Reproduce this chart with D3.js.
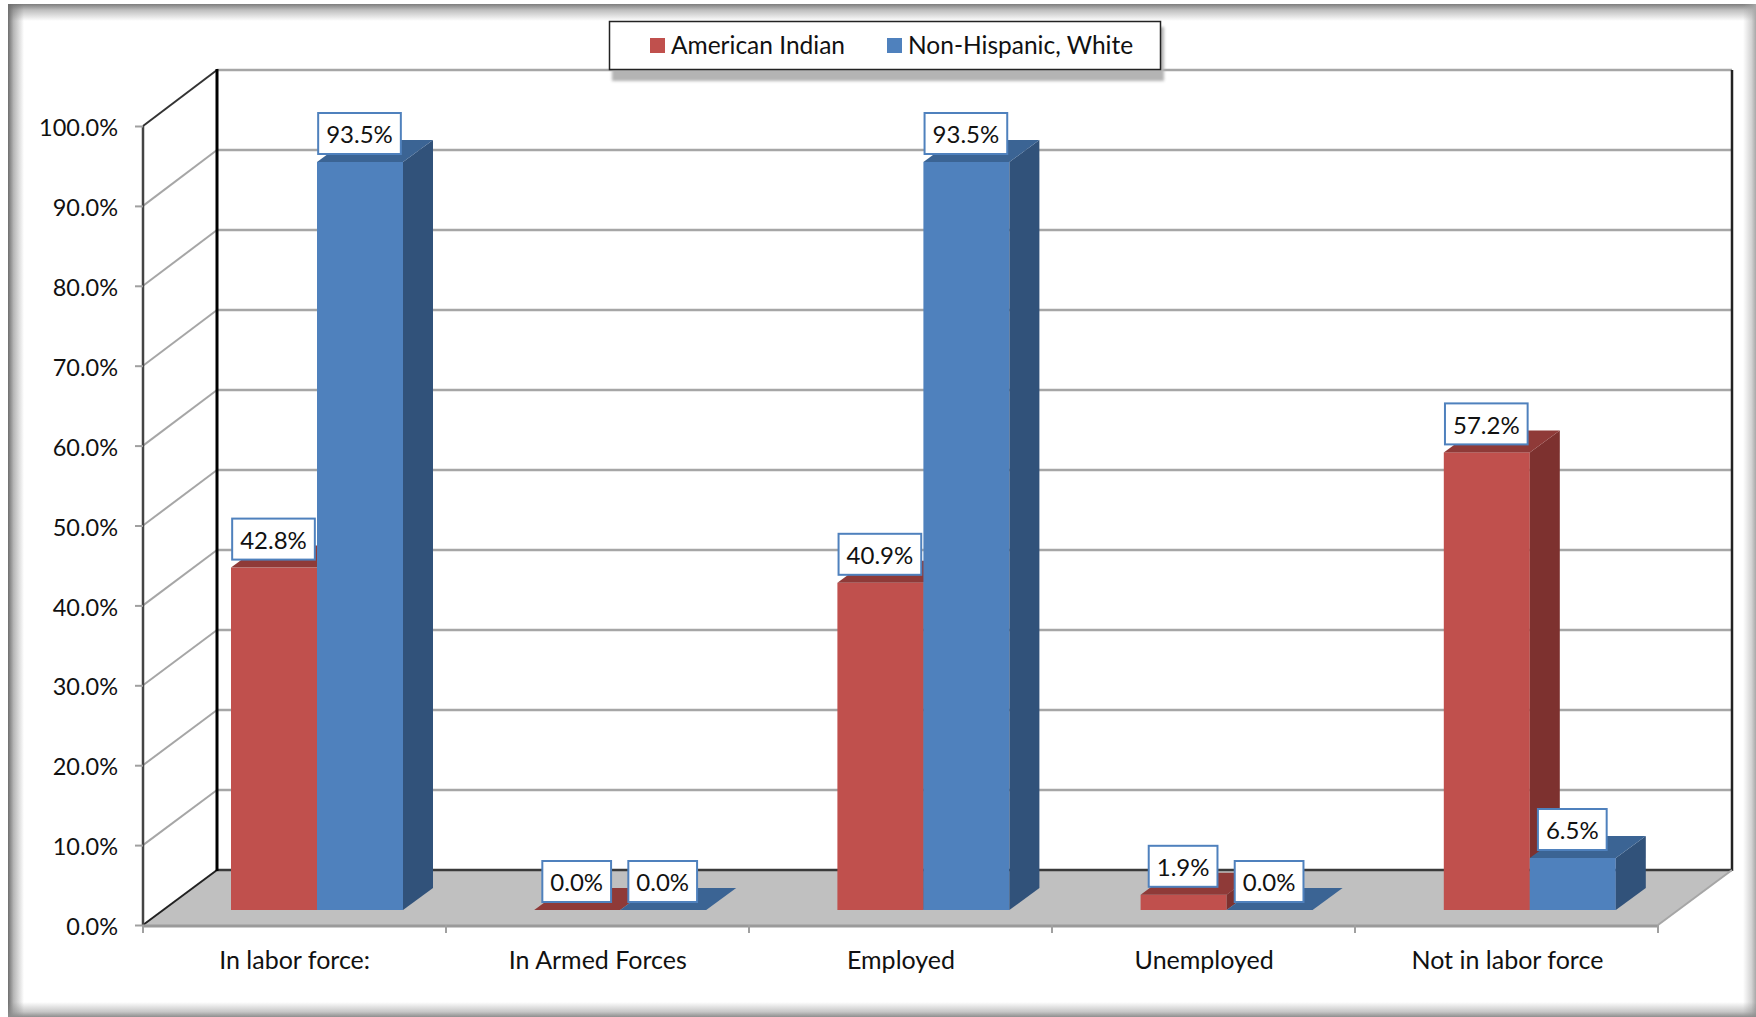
<!DOCTYPE html>
<html>
<head>
<meta charset="utf-8">
<script src="https://cdn.jsdelivr.net/npm/d3@7"></script>
<style>
    html, body { margin: 0; padding: 0; background: #fff; }
    svg { display: block; }
    text { font-family: Lato, "Open Sans", sans-serif; fill: #111; }
</style>
</head>
<body>
<div id="the_chart"></div>
<script>
var categories = ["In labor force:", "In Armed Forces", "Employed", "Unemployed", "Not in labor force"];
var seriesNames = ["American Indian", "Non-Hispanic, White"];
var americanIndian = [42.8, 0.0, 40.9, 1.9, 57.2];
var nonHispanicWhite = [93.5, 0.0, 93.5, 0.0, 6.5];
var yTicks = [0, 10, 20, 30, 40, 50, 60, 70, 80, 90, 100];

var w = 1756;
var h = 1017;

var frontColors = ["#c0504d", "#4f81bd"];
var sideColors = ["#7d312f", "#31527a"];
var topColors = ["#8f3a38", "#3b6494"];

var svg = d3.select("#the_chart")
    .append("svg")
    .attr("width", w)
    .attr("height", h);

var defs = svg.append("defs");
defs.append("filter").attr("id", "blur2").attr("x", "-5%").attr("y", "-30%").attr("width", "110%").attr("height", "160%")
    .append("feGaussianBlur").attr("stdDeviation", 1.5);

// picture frame, a soft gray shade on each edge
function frameGradient(id, x1, y1, x2, y2, dark) {
    var g = defs.append("linearGradient").attr("id", id)
        .attr("x1", x1).attr("y1", y1).attr("x2", x2).attr("y2", y2);
    g.append("stop").attr("offset", 0).attr("stop-color", dark).attr("stop-opacity", 1);
    g.append("stop").attr("offset", 0.35).attr("stop-color", dark).attr("stop-opacity", 0.5);
    g.append("stop").attr("offset", 1).attr("stop-color", dark).attr("stop-opacity", 0);
}
frameGradient("frameTop", 0, 0, 0, 1, "#7d7d7d");
frameGradient("frameLeft", 0, 0, 1, 0, "#6e6e6e");
frameGradient("frameRight", 1, 0, 0, 0, "#a8a8a8");
frameGradient("frameBottom", 0, 1, 0, 0, "#8e8e8e");

svg.append("rect").attr("x", 8).attr("y", 4).attr("width", w - 8).attr("height", 17).attr("fill", "url(#frameTop)");
svg.append("rect").attr("x", 8).attr("y", 4).attr("width", 16).attr("height", h - 4).attr("fill", "url(#frameLeft)");
svg.append("rect").attr("x", w - 13).attr("y", 4).attr("width", 13).attr("height", h - 4).attr("fill", "url(#frameRight)");
svg.append("rect").attr("x", 8).attr("y", h - 15).attr("width", w - 8).attr("height", 15).attr("fill", "url(#frameBottom)");

// scales: front of the walls, back wall, and the line the bars stand on
var x = d3.scaleBand().domain(categories).range([143, 1659]);
var yFront = d3.scaleLinear().domain([0, 100]).range([925, 126]);
var yBack = d3.scaleLinear().domain([0, 100]).range([870, 70]);
var yBar = d3.scaleLinear().domain([0, 100]).range([910, 110]);
var xSeries = d3.scaleBand().domain([0, 1]).range([88, 260]);

var wallLeft = 143;
var wallRight = 1658;
var wallDx = 74;
var barDx = 30;
var barDy = 22;

// floor
svg.append("polygon")
    .attr("points", [[wallLeft, 925], [wallRight, 925], [wallRight + wallDx, yBack(0)], [wallLeft + wallDx, yBack(0)]].join(" "))
    .attr("fill", "#c0c0c0");

// gridlines, on the side wall and along the back wall
var grid = svg.append("g");
grid.selectAll(".grid-back")
    .data(yTicks.slice(1))
    .enter()
    .append("line")
    .attr("x1", wallLeft + wallDx)
    .attr("x2", wallRight + wallDx)
    .attr("y1", function (d) { return yBack(d); })
    .attr("y2", function (d) { return yBack(d); })
    .attr("stroke", "#a6a6a6")
    .attr("stroke-width", 2.5);
grid.selectAll(".grid-side")
    .data(yTicks.slice(1, -1))
    .enter()
    .append("line")
    .attr("x1", wallLeft)
    .attr("x2", wallLeft + wallDx)
    .attr("y1", function (d) { return yFront(d); })
    .attr("y2", function (d) { return yBack(d); })
    .attr("stroke", "#a6a6a6")
    .attr("stroke-width", 2);

// wall edges
function edge(x1, y1, x2, y2, color, width) {
    svg.append("line")
        .attr("x1", x1).attr("y1", y1).attr("x2", x2).attr("y2", y2)
        .attr("stroke", color)
        .attr("stroke-width", width);
}
edge(wallLeft + wallDx, yBack(0), wallRight + wallDx, yBack(0), "#3a3a3a", 2.5);
edge(wallLeft, yFront(100), wallLeft + wallDx, yBack(100), "#333", 2);
edge(wallLeft, yFront(0), wallLeft + wallDx, yBack(0), "#222", 2);
edge(wallLeft, yFront(100), wallLeft, yFront(0), "#444", 2.5);
edge(wallLeft + wallDx, yBack(100) - 1, wallLeft + wallDx, yBack(0) + 1, "#000", 3);
edge(wallRight + wallDx, yBack(100), wallRight + wallDx, yBack(0) + 1, "#222", 2.5);
edge(wallLeft, yFront(0) + 1, wallRight, yFront(0) + 1, "#9a9a9a", 3);
edge(wallRight, yFront(0), wallRight + wallDx, yBack(0), "#a6a6a6", 2);

// axes
var yAxis = d3.axisLeft(yFront)
    .tickValues(yTicks)
    .tickSize(8)
    .tickPadding(17)
    .tickFormat(function (d) { return d.toFixed(1) + "%"; });
var yG = svg.append("g").attr("transform", "translate(" + wallLeft + ",0)").call(yAxis);
yG.select(".domain").remove();
yG.selectAll("line").attr("stroke", "#a0a0a0").attr("stroke-width", 2);
yG.selectAll("text").attr("font-size", 23.5).attr("dy", "0.41em").style("font-family", "Lato");

var xAxis = d3.axisBottom(x).tickSize(0).tickPadding(26);
var xG = svg.append("g").attr("transform", "translate(0,925)").call(xAxis);
xG.select(".domain").remove();
xG.selectAll("text").attr("font-size", 25).style("font-family", "Lato");

// ticks between the categories
svg.selectAll(".cat-tick")
    .data(categories.concat(["end"]))
    .enter()
    .append("line")
    .attr("x1", function (d, i) { return wallLeft + i * 303; })
    .attr("x2", function (d, i) { return wallLeft + i * 303; })
    .attr("y1", 925)
    .attr("y2", 933)
    .attr("stroke", "#a0a0a0")
    .attr("stroke-width", 2);

// bars: each one is a front face, a side face and a top face
var rows = categories.map(function (c, i) {
    return [
        { cat: c, s: 0, v: americanIndian[i] },
        { cat: c, s: 1, v: nonHispanicWhite[i] }
    ];
});
var flat = d3.merge(rows);
var bw = xSeries.bandwidth();

var bars = svg.selectAll(".bar")
    .data(flat)
    .enter()
    .append("g")
    .attr("class", "bar");

bars.append("rect")
    .attr("x", function (d) { return x(d.cat) + xSeries(d.s); })
    .attr("y", function (d) { return yBar(d.v); })
    .attr("width", bw)
    .attr("height", function (d) { return yBar(0) - yBar(d.v); })
    .attr("fill", function (d) { return frontColors[d.s]; });

bars.append("polygon")
    .attr("points", function (d) {
        var r = x(d.cat) + xSeries(d.s) + bw;
        return [[r, yBar(d.v)], [r + barDx, yBar(d.v) - barDy], [r + barDx, yBar(0) - barDy], [r, yBar(0)]].join(" ");
    })
    .attr("fill", function (d) { return sideColors[d.s]; });

bars.append("polygon")
    .attr("points", function (d) {
        var l = x(d.cat) + xSeries(d.s);
        var t = yBar(d.v);
        return [[l, t], [l + bw, t], [l + bw + barDx, t - barDy], [l + barDx, t - barDy]].join(" ");
    })
    .attr("fill", function (d) { return topColors[d.s]; });

// value labels
var labels = svg.selectAll(".val")
    .data(flat)
    .enter()
    .append("g")
    .attr("class", "val")
    .attr("transform", function (d) {
        return "translate(" + (x(d.cat) + xSeries(d.s) + bw / 2 - 0.5) + "," + (yBar(d.v) - 28.5) + ")";
    });
var labelRects = labels.append("rect")
    .attr("y", -20.5)
    .attr("height", 41)
    .attr("fill", "#fff")
    .attr("stroke", "#4f81bd")
    .attr("stroke-width", 2);
var labelTexts = labels.append("text")
    .attr("text-anchor", "middle")
    .attr("dy", "0.4em")
    .attr("font-size", 24)
    .text(function (d) { return d.v.toFixed(1) + "%"; });
labelRects.each(function (d, i) {
    var tw = labelTexts.nodes()[i].getComputedTextLength() + 16;
    d3.select(this).attr("x", -tw / 2).attr("width", tw);
});

// legend
svg.append("rect")
    .attr("x", 612).attr("y", 27).attr("width", 552).attr("height", 54)
    .attr("fill", "#b4b4b4")
    .attr("filter", "url(#blur2)");
svg.append("rect")
    .attr("x", 609.5).attr("y", 21.5).attr("width", 551).attr("height", 48)
    .attr("fill", "#fff")
    .attr("stroke", "#222")
    .attr("stroke-width", 1.5);

var legendX = [650, 887];
var legend = svg.selectAll(".legend")
    .data(seriesNames)
    .enter()
    .append("g")
    .attr("class", "legend")
    .attr("transform", function (d, i) { return "translate(" + legendX[i] + ",45)"; });
legend.append("rect")
    .attr("y", -7)
    .attr("width", 15)
    .attr("height", 15)
    .attr("fill", function (d, i) { return frontColors[i]; });
legend.append("text")
    .attr("x", 21)
    .attr("dy", "0.36em")
    .attr("font-size", 24.5)
    .text(function (d) { return d; });
</script>
</body>
</html>
